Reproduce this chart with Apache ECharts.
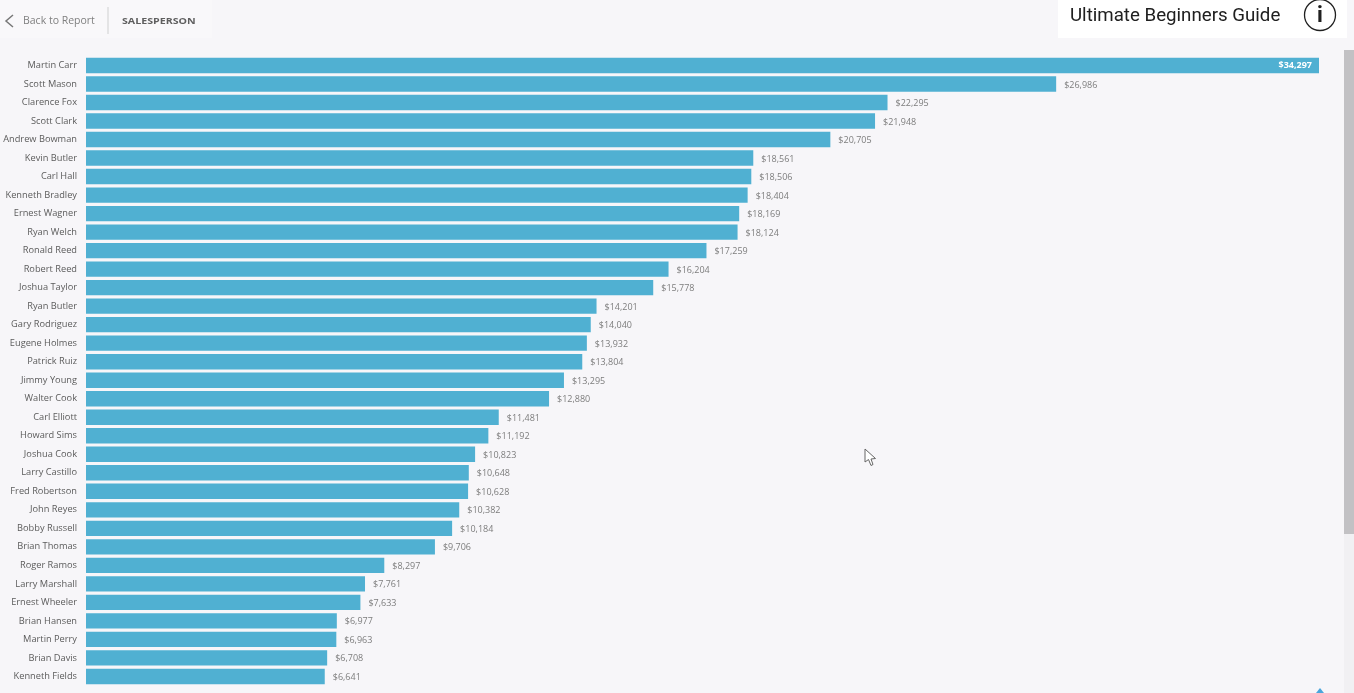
<!DOCTYPE html>
<html>
<head>
<meta charset="utf-8">
<style>
html, body { margin: 0; padding: 0; background: #f7f6f9; overflow: hidden; }
#chart { width: 1354px; height: 693px; }
</style>
<script src="https://cdn.jsdelivr.net/npm/echarts@6/dist/echarts.min.js"></script>
</head>
<body>
<div id="chart"></div>
<script>
const salespeople = ['Martin Carr', 'Scott Mason', 'Clarence Fox', 'Scott Clark', 'Andrew Bowman', 'Kevin Butler',
  'Carl Hall', 'Kenneth Bradley', 'Ernest Wagner', 'Ryan Welch', 'Ronald Reed', 'Robert Reed', 'Joshua Taylor',
  'Ryan Butler', 'Gary Rodriguez', 'Eugene Holmes', 'Patrick Ruiz', 'Jimmy Young', 'Walter Cook', 'Carl Elliott',
  'Howard Sims', 'Joshua Cook', 'Larry Castillo', 'Fred Robertson', 'John Reyes', 'Bobby Russell', 'Brian Thomas',
  'Roger Ramos', 'Larry Marshall', 'Ernest Wheeler', 'Brian Hansen', 'Martin Perry', 'Brian Davis', 'Kenneth Fields'];
const sales = [34297, 26986, 22295, 21948, 20705, 18561, 18506, 18404, 18169, 18124, 17259, 16204, 15778,
  14201, 14040, 13932, 13804, 13295, 12880, 11481, 11192, 10823, 10648, 10628, 10382, 10184, 9706,
  8297, 7761, 7633, 6977, 6963, 6708, 6641];

const money = v => '$' + v.toLocaleString('en-US');

var myChart = echarts.init(document.getElementById('chart'));
myChart.setOption({
  backgroundColor: '#f7f6f9',
  animation: false,
  // labels run close to the left edge, so stop v6 from pushing the grid in
  grid: { left: 86, width: 1233, top: 56.2, height: 629.5, outerBoundsMode: 'none' },
  xAxis: { type: 'value', min: 0, max: 34297, show: false },
  yAxis: {
    type: 'category',
    inverse: true,
    data: salespeople,
    axisLine: { show: false },
    axisTick: { show: false },
    axisLabel: { interval: 0, margin: 9, fontFamily: 'Open Sans', fontSize: 9.25, color: '#5b5b5b' }
  },
  series: [{
    type: 'bar',
    barCategoryGap: '17%',
    itemStyle: { color: '#50b0d2' },
    label: {
      show: true,
      position: 'right',
      distance: 8,
      offset: [0, 1],
      fontFamily: 'Open Sans',
      fontSize: 9,
      color: '#7d7d7d',
      formatter: p => money(p.value)
    },
    data: sales.map((v, i) => i === 0
      ? { value: v, label: { position: 'insideRight', distance: 7, offset: [0, 0], color: '#ffffff', fontWeight: 'bold' } }
      : v)
  }],
  graphic: [
    // header strip
    { type: 'rect', shape: { x: 0, y: 0, width: 212, height: 38 }, style: { fill: '#f9f8fa' } },
    { type: 'polyline', shape: { points: [[13, 15], [6, 21], [13, 27]] }, style: { stroke: '#777', lineWidth: 1.5, fill: null } },
    { type: 'text', x: 23, y: 16, style: { text: 'Back to Report', font: '10.5px "Open Sans"', fill: '#808080' } },
    { type: 'rect', shape: { x: 107.5, y: 7, width: 1, height: 27 }, style: { fill: '#cfcfcf' } },
    { type: 'text', x: 122, y: 16, scaleX: 1.12, style: { text: 'SALESPERSON', font: 'bold 9.5px "Open Sans"', fill: '#5f5f5f' } },
    // title box
    { type: 'rect', shape: { x: 1058, y: 0, width: 289, height: 38 }, style: { fill: '#ffffff' } },
    { type: 'text', x: 1070, y: 7, style: { text: 'Ultimate Beginners Guide', font: '18.7px Roboto', fill: '#202020' } },
    { type: 'circle', shape: { cx: 1320, cy: 15, r: 15.5 }, style: { fill: '#ffffff', stroke: '#202020', lineWidth: 1.3 } },
    { type: 'text', x: 1320, y: 16, style: { text: 'i', font: 'bold 22px Roboto', fill: '#202020', align: 'center', verticalAlign: 'middle' } },
    // scrollbar
    { type: 'rect', shape: { x: 1344, y: 50, width: 10, height: 643 }, style: { fill: '#f1f0f3' } },
    { type: 'rect', shape: { x: 1344, y: 50, width: 10, height: 484 }, style: { fill: '#c2c1c4' } },
    // mouse cursor
    { type: 'polygon', shape: { points: [[865, 449], [865, 462], [868.5, 459.5], [871, 465.5], [873, 464.5], [871, 459], [875.5, 458.5]] }, style: { fill: '#ffffff', stroke: '#666', lineWidth: 1 } },
    // corner mark
    { type: 'polygon', shape: { points: [[1316, 693], [1320, 688], [1324, 693]] }, style: { fill: '#4aa5dc' } }
  ]
});
</script>
</body>
</html>
